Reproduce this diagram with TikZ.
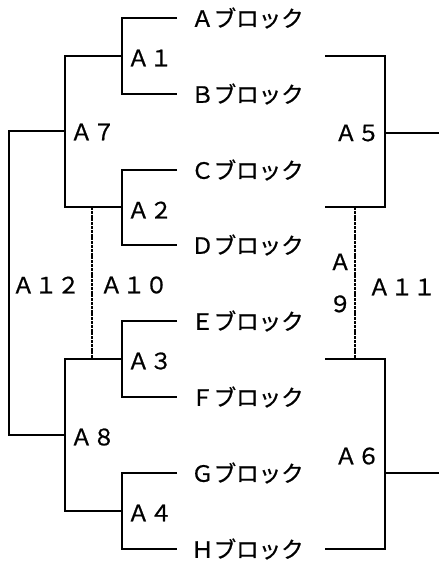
\documentclass[tikz,border=0pt]{standalone}
\usepackage{fontspec}
\setmainfont{Noto Sans CJK JP}[FakeBold=0.8]
\usetikzlibrary{calc,positioning}

\begin{document}
\begin{tikzpicture}[
    x=1pt, y=-1pt,
    wire/.style={line width=2.2pt},
    link/.style={line width=2.6pt, dash pattern=on 3pt off 0.8pt},
    leaf/.style={anchor=west, inner xsep=14pt, inner ysep=0pt, font=\fontsize{22.5}{26}\selectfont},
    tag/.style={inner sep=0pt, font=\fontsize{22.5}{26}\selectfont}
]
    \useasboundingbox (0,0) rectangle (439,566);

    % Blocks
    \node[leaf] (la) at (177,18) {Ａブロック};
    \node[leaf] (lb) at (177,94) {Ｂブロック};
    \node[leaf] (lc) at (177,170) {Ｃブロック};
    \node[leaf] (ld) at (177,245) {Ｄブロック};
    \node[leaf] (le) at (177,321) {Ｅブロック};
    \node[leaf] (lf) at (177,397) {Ｆブロック};
    \node[leaf] (lg) at (177,473) {Ｇブロック};
    \node[leaf] (lh) at (177,549) {Ｈブロック};

    % Junctions of the left tree
    \coordinate (j1) at (122,56);
    \coordinate (j2) at (122,207);
    \coordinate (j3) at (122,359);
    \coordinate (j4) at (122,511);
    \coordinate (j7) at (65,131);
    \coordinate (j8) at (65,435);
    \coordinate (j12) at (9,283);

    % Left tree
    \draw[wire] (la.west) -| (j1) |- (lb.west);
    \draw[wire] (lc.west) -| (j2) |- (ld.west);
    \draw[wire] (le.west) -| (j3) |- (lf.west);
    \draw[wire] (lg.west) -| (j4) |- (lh.west);
    \draw[wire] (j1) -| (j7) |- (j2);
    \draw[wire] (j3) -| (j8) |- (j4);
    \draw[wire] (j7) -| (j12) |- (j8);

    % Link A10
    \coordinate (k10a) at (92,207);
    \coordinate (k10b) at (92,359);
    \draw[link] (k10a) -- (k10b);

    % Right brackets
    \coordinate (r5a) at (325,56);
    \coordinate (r5b) at (325,207);
    \coordinate (j5) at (385,133);
    \coordinate (o5) at (439,133);
    \coordinate (r6a) at (325,359);
    \coordinate (r6b) at (325,549);
    \coordinate (j6) at (385,473);
    \coordinate (o6) at (439,473);
    \draw[wire] (r5a) -| (j5) |- (r5b);
    \draw[wire] (j5) -- (o5);
    \draw[wire] (r6a) -| (j6) |- (r6b);
    \draw[wire] (j6) -- (o6);

    % Link A11
    \coordinate (k11a) at (355,207);
    \coordinate (k11b) at (355,359);
    \draw[link] (k11a) -- (k11b);

    % Labels
    \node[tag, anchor=west] (t1) at ($(j1)+(5,2)$) {Ａ１};
    \node[tag, anchor=west] (t2) at ($(j2)+(5,3)$) {Ａ２};
    \node[tag, anchor=west] (t3) at ($(j3)+(5,2)$) {Ａ３};
    \node[tag, anchor=west] (t4) at ($(j4)+(5,2)$) {Ａ４};
    \node[tag, anchor=west] (t7) at ($(j7)+(5,1)$) {Ａ７};
    \node[tag, anchor=west] (t8) at ($(j8)+(5,2)$) {Ａ８};
    \node[tag, anchor=west] (t12) at ($(j12)+(3,2)$) {Ａ１２};
    \node[tag, anchor=west] (t10) at ($(k10a)!0.5!(k10b)+(8,2)$) {Ａ１０};
    \node[tag, anchor=east] (t5) at ($(r5a-|j5)!0.5!(r5b-|j5)+(-5,1.5)$) {Ａ５};
    \node[tag, anchor=east] (t6) at ($(r6a-|j6)!0.5!(r6b-|j6)+(-5,2)$) {Ａ６};
    \node[tag, anchor=west] (t11) at ($(k11a)!0.5!(k11b)+(13,4)$) {Ａ１１};
    \node[tag, align=center, text width=22pt, font=\fontsize{22.5}{42}\selectfont] (t9)
        at ($(k11a)!0.5!(k11b)+(-15,0)$) {Ａ\\９};
\end{tikzpicture}
\end{document}
